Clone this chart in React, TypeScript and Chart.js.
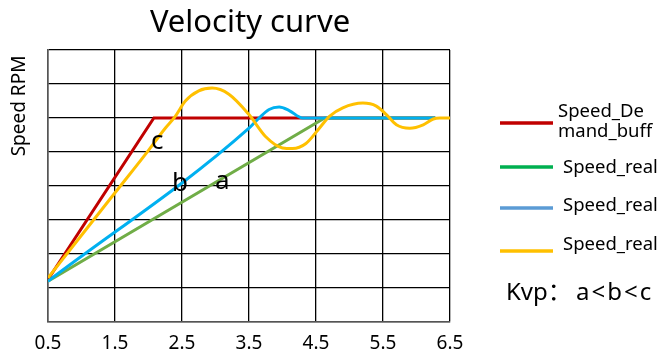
import React, { useEffect, useRef } from "react";
import { Chart, registerables } from "chart.js";

Chart.register(...registerables);

const xTicks = [0.5, 1.5, 2.5, 3.5, 4.5, 5.5, 6.5];
const xTickLabels = ["0.5", "1.5", "2.5", "3.5", "4.5", "5.5", "6.5"];

const redX = [0.5, 2.08, 6.28];
const redY = [1.25, 6.0, 6.0];

const greenX = [0.5, 4.63, 6.28];
const greenY = [1.2, 6.0, 6.0];

const blueX = [0.5, 3.5, 3.65, 3.8, 3.95, 4.1, 4.3, 6.28];
const blueY = [1.2, 5.7, 6.0, 6.25, 6.32, 6.22, 6.0, 6.0];

const yellowX = [0.5, 1.5, 2.0, 2.25, 2.4, 2.55, 2.75, 2.95, 3.2, 3.5, 3.75, 4.0, 4.15, 4.35, 4.55, 4.7, 4.9, 5.2, 5.4, 5.55, 5.7, 5.9, 6.1, 6.25, 6.35, 6.5];
const yellowY = [1.3, 3.8, 5.05, 5.7, 6.05, 6.5, 6.8, 6.88, 6.7, 6.1, 5.45, 5.12, 5.1, 5.25, 5.7, 6.05, 6.3, 6.44, 6.35, 6.1, 5.8, 5.7, 5.8, 5.97, 6.0, 6.0];

const annLabels = ["c", "b", "a"];
const annX = [2.13, 2.47, 3.1];
const annY = [5.09, 3.85, 3.91];

const legendLabels = [["Speed_De", "mand_buff"], ["Speed_real"], ["Speed_real"], ["Speed_real"]];
const legendColors = ["#C00000", "#00B050", "#5B9BD5", "#FFC000"];

const titleText = "Velocity curve";
const yTitle = "Speed RPM";
const notePrefix = "Kvp：";
const noteText = "a<b<c";

const FONT = "'Noto Sans', 'Noto Sans CJK SC', sans-serif";

const pts = (xs: number[], ys: number[]) => xs.map((x, i) => ({ x, y: ys[i] }));

export default function App() {
  const ref = useRef<HTMLCanvasElement | null>(null);
  useEffect(() => {
    if (!ref.current) return;
    const textPlugin = {
      id: "texts",
      afterDraw(chart: any) {
        const ctx = chart.ctx;
        const xs = chart.scales.x;
        const ys = chart.scales.y;
        ctx.save();
        ctx.fillStyle = "#000";
        // title
        ctx.font = `31px ${FONT}`;
        ctx.textAlign = "center";
        ctx.textBaseline = "alphabetic";
        ctx.fillText(titleText, 250, 32);
        // y title
        ctx.save();
        ctx.translate(20, 106);
        ctx.rotate(-Math.PI / 2);
        ctx.font = `19px ${FONT}`;
        ctx.textAlign = "center";
        ctx.textBaseline = "middle";
        ctx.fillText(yTitle, 0, 0);
        ctx.restore();
        // annotations
        ctx.font = `26px ${FONT}`;
        ctx.textAlign = "center";
        ctx.textBaseline = "alphabetic";
        annLabels.forEach((t, i) => {
          ctx.fillText(t, xs.getPixelForValue(annX[i]), ys.getPixelForValue(annY[i]));
        });
        // legend
        const lineY = [123, 167, 208, 251];
        const textY = [[112, 132], [168], [206], [245]];
        const textX = [558, 563, 563, 563];
        ctx.lineWidth = 3.5;
        ctx.font = `18.5px ${FONT}`;
        ctx.textAlign = "left";
        ctx.textBaseline = "middle";
        legendLabels.forEach((lines, i) => {
          ctx.strokeStyle = legendColors[i];
          ctx.beginPath();
          ctx.moveTo(500, lineY[i]);
          ctx.lineTo(553, lineY[i]);
          ctx.stroke();
          lines.forEach((l, j) => ctx.fillText(l, textX[i], textY[i][j]));
        });
        ctx.font = `24px ${FONT}`;
        ctx.fillText(notePrefix, 506, 293);
        try {
          (ctx as any).letterSpacing = "2px";
        } catch (e) {}
        ctx.fillText(noteText, 576, 293);
        ctx.restore();
      },
    };
    const chart = new Chart(ref.current, {
      type: "scatter",
      data: {
        datasets: [
          { label: "yellow", data: pts(yellowX, yellowY), borderColor: "#FFC000", showLine: true, borderWidth: 3, pointRadius: 0, cubicInterpolationMode: "monotone", order: 0 },
          { label: "blue", data: pts(blueX, blueY), borderColor: "#00B0F0", showLine: true, borderWidth: 3, pointRadius: 0, cubicInterpolationMode: "monotone", order: 1 },
          { label: "green", data: pts(greenX, greenY), borderColor: "#70AD47", showLine: true, borderWidth: 3, pointRadius: 0, order: 2 },
          { label: "red", data: pts(redX, redY), borderColor: "#C00000", showLine: true, borderWidth: 3, pointRadius: 0, order: 3 },
        ],
      } as any,
      options: {
        animation: false,
        responsive: false,
        layout: { padding: { left: 48, right: 210, top: 50, bottom: 0 } },
        plugins: { legend: { display: false }, tooltip: { enabled: false }, title: { display: false } },
        scales: {
          x: {
            type: "linear",
            min: 0.5,
            max: 6.5,
            afterBuildTicks: (s: any) => {
              s.ticks = xTicks.map((v) => ({ value: v }));
            },
            afterFit: (s: any) => {
              s.height = 39;
            },
            ticks: {
              color: "#000",
              font: { family: FONT, size: 19 },
              padding: 10,
              maxRotation: 0,
              autoSkip: false,
              callback: (_v: any, i: number) => xTickLabels[i],
            },
            grid: { color: "#000", lineWidth: 1.3, drawTicks: false },
            border: { color: "#555", width: 1.5 },
          },
          y: {
            min: 0,
            max: 8,
            afterFit: (s: any) => {
              s.width = 0;
            },
            ticks: { display: false, stepSize: 1 },
            grid: { color: "#000", lineWidth: 1.3, drawTicks: false },
            border: { color: "#555", width: 1.5 },
          },
        },
      } as any,
      plugins: [textPlugin],
    });
    return () => chart.destroy();
  }, []);
  return (
    <div style={{ position: "absolute", left: 0, top: 0, width: 660, height: 361, background: "#fff" }}>
      <canvas ref={ref} width={660} height={361} />
    </div>
  );
}
